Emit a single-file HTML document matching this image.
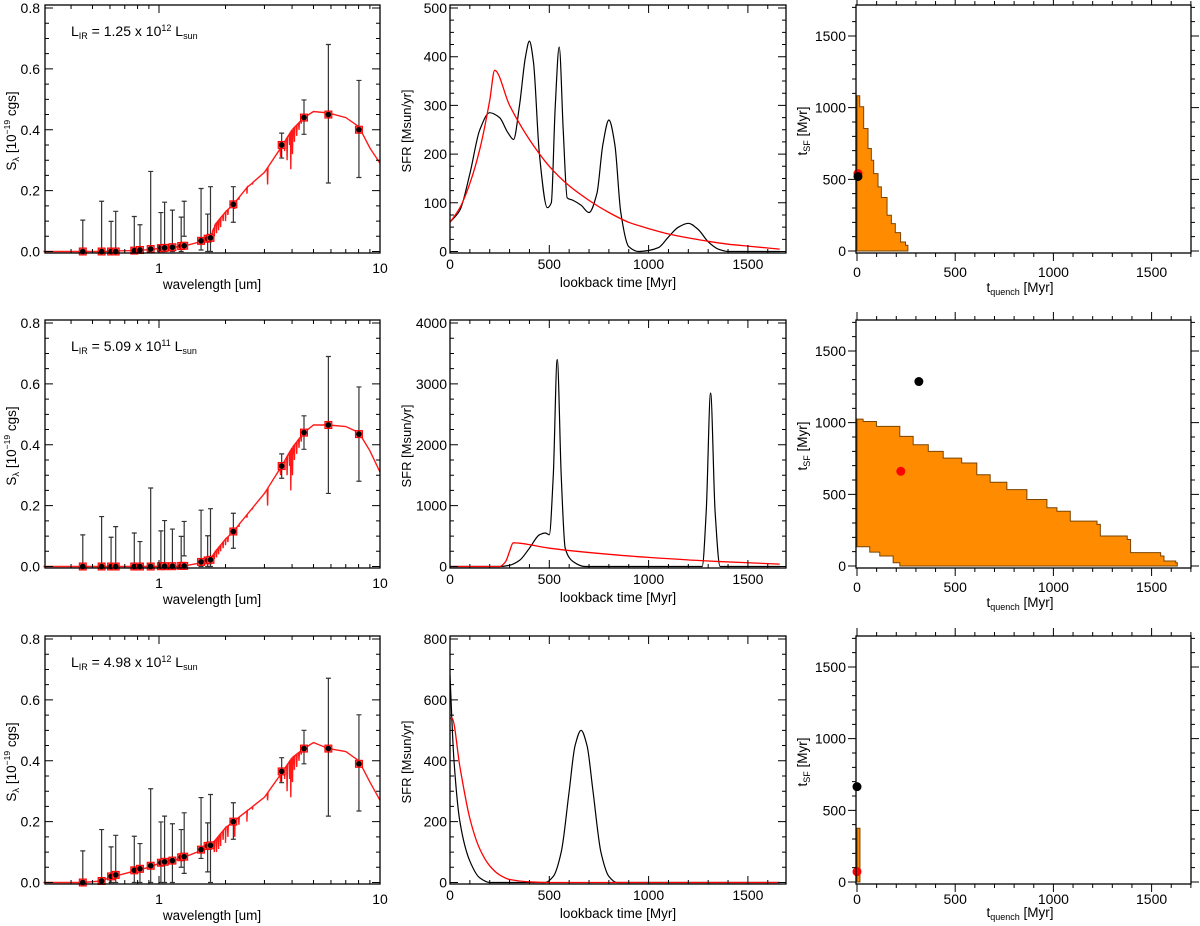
<!DOCTYPE html>
<html><head><meta charset="utf-8"><style>
html,body{margin:0;padding:0;background:#fff}
svg{display:block;font-family:"Liberation Sans",Arial,sans-serif}
</style></head><body>
<svg id="fig" width="1200" height="926" viewBox="0 0 1200 926" xmlns="http://www.w3.org/2000/svg"></svg>
<script>
// ---------- data ----------
const ROW_TOPS=[5,320,636];
const LIR_LABEL_MANT=["1.25","5.09","4.98"];
const LIR_LABEL_EXP=["12","11","12"];
const SED_LAM=[0.452,0.55,0.607,0.637,0.773,0.82,0.917,1.02,1.06,1.15,1.26,1.30,1.55,1.66,1.71,2.17,3.59,4.53,5.84,8.03];
const SED_FLUX_R1=[0,0,0,0,0.003,0.005,0.008,0.011,0.012,0.014,0.018,0.019,0.035,0.042,0.045,0.155,0.35,0.44,0.45,0.40];
const SED_HI_R1=[0.103,0.165,0.099,0.132,0.115,0.088,0.263,0.128,0.162,0.136,0.113,0.165,0.207,0.123,0.213,0.213,0.389,0.498,0.68,0.562];
const SED_LO_R1=[0,0,0,0,0,0,0,0,0,0,0,0.05,0.005,0,0,0.096,0.307,0.385,0.225,0.243];
const SED_FLUX_R2=[0,0,0,0,0,0,0,0.001,0.001,0.001,0.002,0.002,0.015,0.02,0.022,0.115,0.33,0.44,0.465,0.435];
const SED_HI_R2=[0.104,0.164,0.096,0.131,0.11,0.082,0.258,0.117,0.151,0.123,0.099,0.148,0.185,0.101,0.19,0.175,0.37,0.495,0.69,0.59];
const SED_LO_R2=[0,0,0,0,0,0,0,0,0,0,0,0.035,0,0,0,0.06,0.29,0.385,0.24,0.28];
const SED_FLUX_R3=[0,0.005,0.02,0.025,0.04,0.045,0.055,0.065,0.068,0.072,0.083,0.085,0.108,0.12,0.122,0.2,0.365,0.44,0.44,0.39];
const SED_HI_R3=[0.104,0.174,0.117,0.155,0.152,0.128,0.308,0.199,0.218,0.193,0.174,0.229,0.279,0.196,0.289,0.262,0.41,0.5,0.671,0.551];
const SED_LO_R3=[0,0,0,0,0,0,0,0,0,0,0.05,0.03,0.079,0.035,0,0.142,0.328,0.39,0.218,0.235];
const SPEC_LAM=[0.3,0.45,0.55,0.6,0.64,0.77,0.82,0.92,1.0,1.15,1.3,1.55,1.7,1.8,2.0,2.17,2.5,3.0,3.59,4.0,4.53,5.0,5.84,7.0,8.03,9,10];
const SPEC_R1=[0,0,0,0.001,0.002,0.003,0.004,0.007,0.01,0.013,0.018,0.033,0.045,0.09,0.13,0.155,0.21,0.26,0.345,0.40,0.44,0.46,0.455,0.44,0.41,0.34,0.29];
const SPEC_R2=[0,0,0,0,0,0,0,0,0,0,0.002,0.012,0.022,0.05,0.09,0.115,0.17,0.24,0.33,0.39,0.44,0.465,0.465,0.46,0.44,0.38,0.31];
const SPEC_R3=[0,0,0.005,0.017,0.022,0.037,0.042,0.052,0.063,0.071,0.083,0.105,0.12,0.14,0.18,0.2,0.235,0.28,0.36,0.41,0.44,0.46,0.44,0.43,0.40,0.33,0.27];
const DIP_LAM=[1.74,1.78,1.82,1.86,1.9,1.95,2.0,2.05,2.2,2.3,2.5,2.65,3.1,3.55,3.7,3.8,3.9,3.95,4.02,4.1,4.2,4.3,4.4];
const DIP_R1=[0.04,0.05,0.06,0.07,0.08,0.1,0.1,0.12,0.14,0.17,0.19,0.22,0.22,0.31,0.33,0.30,0.35,0.27,0.32,0.36,0.38,0.4,0.42];
const DIP_R2=[0.015,0.025,0.03,0.04,0.05,0.06,0.07,0.08,0.11,0.13,0.16,0.19,0.2,0.3,0.32,0.3,0.33,0.25,0.3,0.35,0.37,0.39,0.41];
const DIP_R3=[0.11,0.1,0.1,0.11,0.12,0.14,0.13,0.15,0.15,0.19,0.2,0.24,0.27,0.33,0.34,0.3,0.34,0.28,0.33,0.37,0.38,0.4,0.42];
// SFR histories
const SFR_MAX=[500,4000,800];
const SFR_MAJOR=[100,1000,200];
const SFR_MINOR=[25,250,50];
const BLK_T_R1=[0,50,100,150,200,250,290,320,350,380,400,420,450,490,510,530,550,570,590,620,660,700,740,770,800,830,860,900,950,1000,1050,1100,1150,1200,1250,1300,1350,1400,1660];
const BLK_V_R1=[60,85,160,250,285,275,245,230,300,400,432,390,200,90,100,300,420,250,110,105,95,80,120,220,270,220,80,10,0,2,8,30,50,58,45,20,5,0,0];
const RED_T_R1=[0,50,100,150,200,225,300,400,500,600,700,800,900,1000,1100,1200,1300,1400,1500,1660];
const RED_V_R1=[60,90,140,210,310,372,300,230,175,135,105,80,60,47,36,28,21,15,11,5];
const BLK_T_R2=[0,250,300,350,400,450,480,500,520,540,560,580,620,680,1270,1290,1312,1335,1360,1660];
const BLK_V_R2=[0,0,20,100,300,520,550,520,1500,3400,1500,300,80,0,0,900,2850,900,0,0];
const RED_T_R2=[0,250,280,300,318,500,800,1000,1300,1660];
const RED_V_R2=[0,0,80,250,390,300,200,150,90,40];
const BLK_T_R3=[0,20,50,100,150,200,480,520,560,600,630,660,690,720,760,800,840,1660];
const BLK_V_R3=[680,400,200,70,15,0,0,20,100,300,450,500,450,300,100,20,0,0];
const RED_T_R3=[0,10,50,100,150,200,250,300,400,500,1660];
const RED_V_R3=[540,540,380,210,110,55,25,10,2,0,0];
// quench grids (staircase boundaries)
const TQ_TOP_R1=[0,14,34,56,73,85,107,124,153,175,195,222,247,259];
const SF_TOP_R1=[1083,1006,855,715,633,540,447,373,249,191,128,63,40,0];
const TQ_BOT_R1=[259];
const SF_BOT_R1=[0];
const TQ_TOP_R2=[0,31,99,218,286,363,439,533,610,678,763,865,967,1018,1086,1222,1239,1376,1393,1546,1563,1623,1631];
const SF_TOP_R2=[1025,1008,974,904,846,800,753,719,637,584,533,464,406,382,313,290,209,185,93,70,35,23,0];
const TQ_BOT_R2=[0,65,116,184,218];
const SF_BOT_R2=[134,97,70,23,0];
const TQ_TOP_R3=[0,15];
const SF_TOP_R3=[375,0];
const TQ_BOT_R3=[15];
const SF_BOT_R3=[0];
const BEST_TQ=[5,223,0];const BEST_SF=[540,661,72];
const TRUE_TQ=[5,315,0];const TRUE_SF=[520,1287,665];

// ---------- drawing ----------
const NS="http://www.w3.org/2000/svg";
const svg=document.getElementById('fig');
function el(tag,attrs,parent){const e=document.createElementNS(NS,tag);for(const k in attrs)e.setAttribute(k,attrs[k]);(parent||svg).appendChild(e);return e;}
function txt(x,y,s,size,anchor,parent,rot){const t=el('text',{x:x,y:y,'font-size':size,'text-anchor':anchor||'middle',fill:'#000'},parent);if(rot)t.setAttribute('transform','rotate(-90 '+x+' '+y+')');t.innerHTML=s;return t;}
function smooth(p){const n=p.length;const dx=[],m=[],t=new Array(n);
  for(let i=0;i<n-1;i++){dx.push(p[i+1][0]-p[i][0]);m.push((p[i+1][1]-p[i][1])/(p[i+1][0]-p[i][0]));}
  t[0]=m[0];t[n-1]=m[n-2];
  for(let i=1;i<n-1;i++){if(m[i-1]*m[i]<=0)t[i]=0;else{const w1=2*dx[i]+dx[i-1],w2=dx[i]+2*dx[i-1];t[i]=(w1+w2)/(w1/m[i-1]+w2/m[i]);}}
  let d='M'+p[0][0].toFixed(1)+','+p[0][1].toFixed(1);
  for(let i=0;i<n-1;i++){const h=dx[i]/3;d+='C'+(p[i][0]+h).toFixed(1)+','+(p[i][1]+t[i]*h).toFixed(1)+' '+(p[i+1][0]-h).toFixed(1)+','+(p[i+1][1]-t[i+1]*h).toFixed(1)+' '+p[i+1][0].toFixed(1)+','+p[i+1][1].toFixed(1);}
  return d;}

const SEDF=[SED_FLUX_R1,SED_FLUX_R2,SED_FLUX_R3],SEDH=[SED_HI_R1,SED_HI_R2,SED_HI_R3],SEDL=[SED_LO_R1,SED_LO_R2,SED_LO_R3];
const SPEC=[SPEC_R1,SPEC_R2,SPEC_R3],DIPS=[DIP_R1,DIP_R2,DIP_R3];
const BT=[BLK_T_R1,BLK_T_R2,BLK_T_R3],BV=[BLK_V_R1,BLK_V_R2,BLK_V_R3],RT=[RED_T_R1,RED_T_R2,RED_T_R3],RV=[RED_V_R1,RED_V_R2,RED_V_R3];
const QTT=[TQ_TOP_R1,TQ_TOP_R2,TQ_TOP_R3],QST=[SF_TOP_R1,SF_TOP_R2,SF_TOP_R3],QTB=[TQ_BOT_R1,TQ_BOT_R2,TQ_BOT_R3],QSB=[SF_BOT_R1,SF_BOT_R2,SF_BOT_R3];
const QLAB_OFF=[24,24,20],QTITLE_OFF=[39,39,33];

ROW_TOPS.forEach((T,r)=>{
  const B=T+248;
  // ===== SED panel =====
  const L1=45,R1=380;
  const g1=el('g',{});
  
  
  const xs=l=>159+Math.log10(l)*221;
  const ys=v=>(B-1.5)-v/0.8*(B-1.5-(T+3));
  function cont(l){const lg=Math.log10(l);for(let i=0;i<SPEC_LAM.length-1;i++){const a=Math.log10(SPEC_LAM[i]),b=Math.log10(SPEC_LAM[i+1]);if(lg>=a&&lg<=b)return SPEC[r][i]+(SPEC[r][i+1]-SPEC[r][i])*(lg-a)/(b-a);}return SPEC[r][SPEC_LAM.length-1];}
  let pts=SPEC_LAM.map((l,i)=>[l,SPEC[r][i]]);
  DIP_LAM.forEach((l,i)=>{pts.push([l*0.996,cont(l*0.996)]);pts.push([l,DIPS[r][i]]);pts.push([l*1.004,cont(l*1.004)]);});
  pts.sort((a,b)=>a[0]-b[0]);
  const sp=el('polyline',{points:pts.map(p=>xs(p[0]).toFixed(1)+','+ys(p[1]).toFixed(1)).join(' '),fill:'none',stroke:'#ff1a1a','stroke-width':1.4},g1);
  
  
  SED_LAM.forEach((l,i)=>{
    const x=xs(l),yh=ys(SEDH[r][i]),yl=ys(SEDL[r][i]);
    const e=el('path',{d:`M${x},${yh}V${yl}M${x-2.5},${yh}H${x+2.5}M${x-2.5},${yl}H${x+2.5}`,stroke:'#333','stroke-width':1.2,fill:'none'},g1);
    
    
    const sq=el('rect',{x:x-3.5,y:ys(SEDF[r][i])-3.5,width:7,height:7,fill:'#ff5050',stroke:'#ff0000','stroke-width':1},g1);
    
    
    const c=el('circle',{cx:x,cy:ys(SEDF[r][i]),r:2.8,fill:'#000'},g1);
    
    
  });
  let d='';
  for(let v=0;v<=0.8001;v+=0.05){const y=ys(v),len=(Math.round(v*100)%20===0)?8:4;d+=`M${L1},${y}h${len}M${R1},${y}h${-len}`;}
  [0.4,0.5,0.6,0.7,0.8,0.9,1,2,3,4,5,6,7,8,9,10].forEach(l=>{const x=xs(l),len=(l===1||l===10)?8:4;d+=`M${x},${B}v${-len}M${x},${T}v${len}`;});
  el('path',{d:d,stroke:'#000','stroke-width':1,fill:'none'},g1);
  const box1=el('rect',{x:L1,y:T,width:R1-L1,height:B-T,fill:'none',stroke:'#000','stroke-width':1.3},g1);
  
  
  ['0.0','0.2','0.4','0.6','0.8'].forEach((s,i)=>txt(40,ys(i*0.2)+5,s,14,'end',g1));
  txt(159,B+20,'1',14,'middle',g1);txt(380,B+20,'10',14,'middle',g1);
  const xt1=txt(212,B+36,'wavelength [um]',13.5,'middle',g1);
  
  
  const yt1=txt(16,T+126,'S<tspan font-size="9.5" dy="3">λ</tspan><tspan dy="-3"> [10</tspan><tspan font-size="8.5" dy="-6">−19</tspan><tspan dy="6"> cgs]</tspan>',13.5,'middle',g1,true);
  
  
  const lab=txt(71,T+31,'L<tspan font-size="9" dy="3">IR</tspan><tspan dy="-3"> = '+LIR_LABEL_MANT[r]+' x 10</tspan><tspan font-size="9" dy="-5">'+LIR_LABEL_EXP[r]+'</tspan><tspan dy="5"> L</tspan><tspan font-size="9" dy="3">sun</tspan>',14,'start',g1);
  
  

  // ===== SFR panel =====
  const L2=450,R2=786;
  const g2=el('g',{});
  
  
  const xt=t=>L2+t*(99.3/500);
  const yv=v=>(B-1.5)-v/SFR_MAX[r]*(B-1.5-(T+3));
  const bl=el('path',{d:smooth(BT[r].map((t,i)=>[xt(t),yv(BV[r][i])])),fill:'none',stroke:'#000','stroke-width':1.2},g2);
  
  
  const rl=el('path',{d:smooth(RT[r].map((t,i)=>[xt(t),yv(RV[r][i])])),fill:'none',stroke:'#ff0000','stroke-width':1.3},g2);
  
  
  d='';
  for(let v=0;v<=SFR_MAX[r];v+=SFR_MINOR[r]){const y=yv(v),len=(v%SFR_MAJOR[r]===0)?8:4;d+=`M${L2},${y}h${len}M${R2},${y}h${-len}`;}
  for(let t=0;t<=1650;t+=100){const x=xt(t),len=(t%500===0)?8:4;d+=`M${x},${B}v${-len}M${x},${T}v${len}`;}
  el('path',{d:d,stroke:'#000','stroke-width':1,fill:'none'},g2);
  el('rect',{x:L2,y:T,width:R2-L2,height:B-T,fill:'none',stroke:'#000','stroke-width':1.3},g2);
  for(let v=0;v<=SFR_MAX[r];v+=SFR_MAJOR[r])txt(447,yv(v)+5,String(v),14,'end',g2);
  [0,500,1000,1500].forEach(t=>txt(xt(t),B+16,String(t),14,'middle',g2));
  txt(618,B+34,'lookback time [Myr]',13.5,'middle',g2);
  txt(411,T+126,'SFR [Msun/yr]',13,'middle',g2,true);

  // ===== quench panel =====
  const L3=856,R3=1191;
  const g3=el('g',{});
  
  
  const xq=t=>857+t*(98.2/500);
  const yq=v=>(B-2)-v*(215/1500);
  let pd=`M${xq(0)},${yq(0)}`;
  if(QSB[r][0]>0){pd=`M${xq(0)},${yq(QSB[r][0])}`;}
  const tt=QTT[r],st=QST[r];
  pd+=`L${xq(tt[0])},${yq(st[0])}`;
  for(let i=1;i<tt.length;i++){pd+=`L${xq(tt[i])},${yq(st[i-1])}L${xq(tt[i])},${yq(st[i])}`;}
  const tb=QTB[r],sb=QSB[r];
  for(let i=tb.length-1;i>=0;i--){pd+=`L${xq(tb[i])},${yq(sb[i])}`;if(i>0)pd+=`L${xq(tb[i])},${yq(sb[i-1])}`;}
  pd+='Z';
  const reg=el('path',{d:pd,fill:'#ff8c00',stroke:'#7a4500','stroke-width':1},g3);
  
  
  const rd=el('circle',{cx:xq(BEST_TQ[r]),cy:yq(BEST_SF[r]),r:4.5,fill:'#ff0000'},g3);
  
  
  const bd=el('circle',{cx:xq(TRUE_TQ[r]),cy:yq(TRUE_SF[r]),r:4.5,fill:'#000'},g3);
  
  
  d='';
  for(let v=0;v<=1700;v+=100){const y=yq(v),len=(v%500===0)?8:4;d+=`M${L3},${y}h${-len}M${R3},${y}h${len}`;}
  for(let t=0;t<=1700;t+=100){const x=xq(t),len=(t%500===0)?8:4;d+=`M${x},${B}v${len}M${x},${T}v${-len}`;}
  el('path',{d:d,stroke:'#000','stroke-width':1,fill:'none'},g3);
  el('rect',{x:L3,y:T,width:R3-L3,height:B-T,fill:'none',stroke:'#000','stroke-width':1.3},g3);
  [0,500,1000,1500].forEach(v=>txt(846,yq(v)+5,String(v),14,'end',g3));
  [0,500,1000,1500].forEach(t=>txt(xq(t),B+QLAB_OFF[r],String(t),14,'middle',g3));
  txt(1020,B+QTITLE_OFF[r],'t<tspan font-size="9" dy="3">quench</tspan><tspan dy="-3"> [Myr]</tspan>',13.5,'middle',g3);
  txt(807,T+126,'t<tspan font-size="9" dy="3">SF</tspan><tspan dy="-3"> [Myr]</tspan>',13.5,'middle',g3,true);
});
</script>
</body></html>
